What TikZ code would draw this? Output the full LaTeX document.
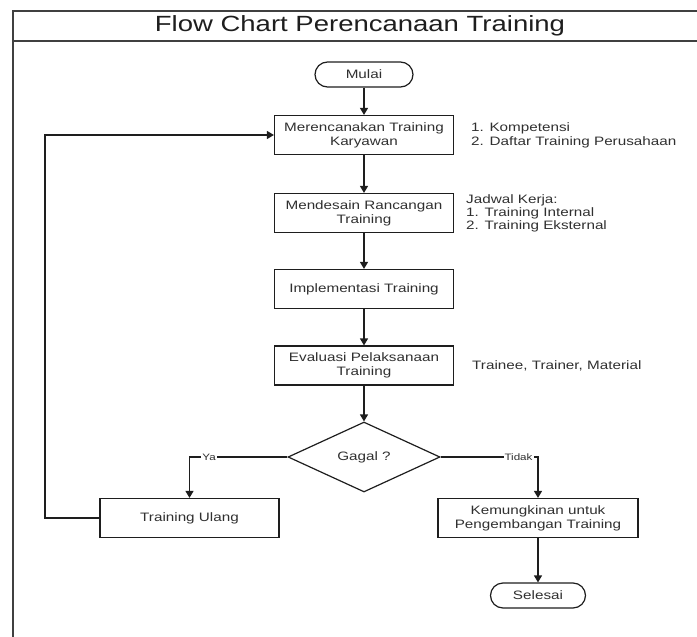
\documentclass[tikz,border=0pt]{standalone}
\usepackage{fontspec}
\setmainfont[FakeStretch=1.25]{Liberation Sans}
\usetikzlibrary{shapes.geometric,arrows.meta}
\definecolor{linec}{HTML}{1E1E1E}
\definecolor{textc}{HTML}{303030}
\newcommand\bxfont{\fontsize{12.2}{14}\selectfont}
\newcommand\lbfont{\fontsize{9.3}{11}\selectfont}
\newcommand\ttlfont{\fontsize{22}{26}\selectfont}
\begin{document}
\begin{tikzpicture}[x=1pt,y=-1pt,
  proc/.style={draw=linec, line width=1.2pt, fill=white, minimum width=179pt, minimum height=39pt, align=center, font=\bxfont, text=textc, inner sep=2pt},
  term/.style={draw=linec, line width=1.2pt, fill=white, rounded corners=12.5pt, minimum width=98pt, minimum height=25pt, font=\bxfont, text=textc, inner sep=2pt},
  decision/.style={diamond, draw=linec, line width=1.2pt, fill=white, minimum width=152pt, minimum height=70pt, inner sep=0pt, font=\bxfont, text=textc},
  flow/.style={draw=linec, line width=1.2pt, -{Triangle[width=8pt,length=7pt]}},
  side/.style={anchor=west, align=left, font=\bxfont, text=textc, inner sep=0pt},
  lbl/.style={fill=white, font=\lbfont, text=textc, inner sep=1pt},
  framel/.style={draw=linec!85, line width=1.5pt}]
\path[use as bounding box] (0,0) rectangle (697,637);
\clip (0,0) rectangle (697,637);
% frame
\draw[framel] (13,700) -- (13,11) -- (720,11);
\draw[framel] (13,41) -- (720,41);
\node[font=\ttlfont, text=linec] (title) at (360,26) {Flow Chart Perencanaan Training};
% nodes
\node[term] (mulai) at (364,74.5) {Mulai};
\node[proc] (p1) at (364,135) {Merencanakan Training\\Karyawan};
\node[proc] (p2) at (364,213) {Mendesain Rancangan\\Training};
\node[proc] (p3) at (364,289) {Implementasi Training};
\node[proc] (p4) at (364,365.5) {Evaluasi Pelaksanaan\\Training};
\node[decision] (dec) at (364,457) {Gagal ?};
\node[proc] (ulang) at (189.5,518) {Training Ulang};
\node[proc, minimum width=200pt] (kem) at (538,518) {Kemungkinan untuk\\Pengembangan Training};
\node[term, minimum width=95pt] (selesai) at (538,595.5) {Selesai};
% side notes
\node[side] (s1) at (471,135) {1. Kompetensi\\2. Daftar Training Perusahaan};
\node[side] (s2) at (466,213) {Jadwal Kerja:\\[-1pt]1. Training Internal\\[-1pt]2. Training Eksternal};
\node[side] (s3) at (472,366) {Trainee, Trainer, Material};
% connectors
\draw[flow] (mulai) -- (p1);
\draw[flow] (p1) -- (p2);
\draw[flow] (p2) -- (p3);
\draw[flow] (p3) -- (p4);
\draw[flow] (p4) -- (dec);
\draw[flow] (dec.west) -| node[lbl, pos=0.4] {Ya} (ulang.north);
\draw[flow] (dec.east) -| node[lbl, pos=0.4] {Tidak} (kem.north);
\draw[flow] (kem) -- (selesai);
\coordinate (lp) at (45,518);
\draw[flow] (ulang.west) -- (lp) |- (p1.west);
\end{tikzpicture}
\end{document}
